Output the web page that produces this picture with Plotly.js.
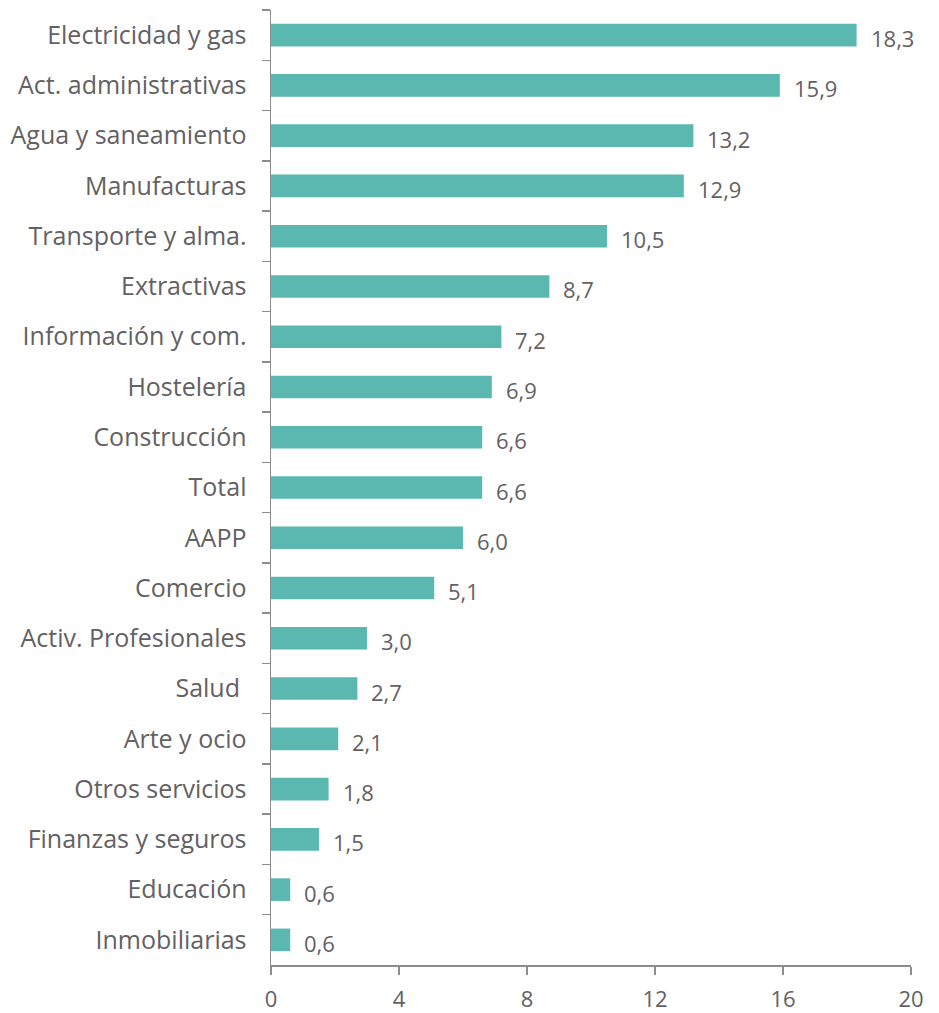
<!DOCTYPE html>
<html><head><meta charset="utf-8">
<script src="https://cdn.plot.ly/plotly-3.0.1.min.js"></script>
<style>html,body{margin:0;padding:0;background:#fff}#chart{width:939px;height:1013px}</style>
</head><body><div id="chart"></div>
<script>
const categories = ["Electricidad y gas","Act. administrativas","Agua y saneamiento","Manufacturas","Transporte y alma.","Extractivas","Información y com.","Hostelería","Construcción","Total","AAPP","Comercio","Activ. Profesionales","Salud ","Arte y ocio","Otros servicios","Finanzas y seguros","Educación","Inmobiliarias"];
const values = [18.3,15.9,13.2,12.9,10.5,8.7,7.2,6.9,6.6,6.6,6.0,5.1,3.0,2.7,2.1,1.8,1.5,0.6,0.6];
const xTicks = [0,4,8,12,16,20];

const textColor = "#636162";
const axisColor = "#8c8c8c";
const fontFam = "'Open Sans', Lato, sans-serif";

const trace = {
  type: "bar", orientation: "h",
  x: values, y: categories,
  marker: {color: "#5bb8b1"},
  width: 0.45,
  hoverinfo: "none"
};

const annotations = values.map((v, i) => ({
  x: v, y: categories[i], xref: "x", yref: "y",
  text: v.toFixed(1).replace(".", ","),
  showarrow: false, xanchor: "left", yanchor: "middle",
  xshift: 12, yshift: -3,
  font: {family: fontFam, size: 22, color: textColor}
}));

const layout = {
  width: 939, height: 1013,
  margin: {l: 271, r: 28, t: 10, b: 48},
  paper_bgcolor: "#fff", plot_bgcolor: "#fff",
  showlegend: false,
  xaxis: {
    range: [0, 20], tickvals: xTicks, ticktext: xTicks.map(String),
    showgrid: false, zeroline: false,
    showline: true, linecolor: axisColor, linewidth: 1.5,
    ticks: "outside", ticklen: 8, tickcolor: axisColor, tickwidth: 1.5,
    ticklabelstandoff: 6,
    tickfont: {family: fontFam, size: 22, color: textColor},
    fixedrange: true
  },
  yaxis: {
    autorange: "reversed", type: "category",
    showgrid: false, zeroline: false,
    showline: true, linecolor: axisColor, linewidth: 1.5,
    ticks: "outside", tickson: "boundaries", ticklen: 8, tickcolor: axisColor, tickwidth: 1.5,
    ticklabelstandoff: 18,
    tickfont: {family: fontFam, size: 25, color: textColor},
    fixedrange: true
  },
  annotations: annotations
};

Plotly.newPlot("chart", [trace], layout, {displayModeBar: false, staticPlot: true});
</script></body></html>
